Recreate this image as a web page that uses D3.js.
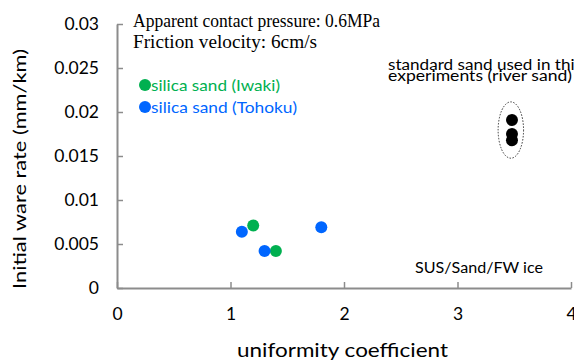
<!DOCTYPE html>
<html>
<head>
<meta charset="utf-8">
<script src="https://cdn.jsdelivr.net/npm/d3@7"></script>
<style>
  body { margin: 0; background: #fff; }
  svg { font-family: Lato, "Open Sans", sans-serif; }
  .serif { font-family: "Liberation Serif", "Times New Roman", serif; }
</style>
</head>
<body>
<div id="chart"></div>
<script>
// data
var iwakiX = [1.2, 1.4],
    iwakiY = [0.0071, 0.0042];
var tohokuX = [1.1, 1.3, 1.8],
    tohokuY = [0.0064, 0.0042, 0.0069];
var standardX = [3.48, 3.48, 3.48],
    standardY = [0.0191, 0.0175, 0.0168];
var xTicks = [0, 1, 2, 3, 4];
var yTicks = [0, 0.005, 0.01, 0.015, 0.02, 0.025, 0.03];
var yTickLabels = ["0", "0.005", "0.01", "0.015", "0.02", "0.025", "0.03"];

var width = 574, height = 360;
var margin = {top: 24, right: 3, bottom: 72, left: 117};

var svg = d3.select("#chart").append("svg")
    .attr("width", width)
    .attr("height", height);

var x = d3.scaleLinear().domain([0, 4]).range([margin.left, width - margin.right]);
var y = d3.scaleLinear().domain([0, 0.03]).range([height - margin.bottom, margin.top]);

var axisColor = "#8c8c8c";

// x axis, ticks pointing inward
var gx = svg.append("g")
    .attr("transform", "translate(0," + y(0) + ")")
    .call(d3.axisBottom(x).tickValues(xTicks).tickFormat(d3.format("d"))
      .tickSize(-6).tickSizeOuter(0).tickPadding(20));
gx.select(".domain").attr("stroke", axisColor).attr("stroke-width", 2);
gx.selectAll(".tick line").attr("stroke", axisColor).attr("stroke-width", 1.5);
gx.selectAll(".tick text").attr("font-size", 17.5).attr("fill", "#000")
    .attr("font-family", "Lato, sans-serif");

// y axis, ticks pointing inward
var gy = svg.append("g")
    .attr("transform", "translate(" + x(0) + ",0)")
    .call(d3.axisLeft(y).tickValues(yTicks)
      .tickFormat(function(d, i) { return yTickLabels[i]; })
      .tickSize(-6).tickSizeOuter(0).tickPadding(18));
gy.select(".domain").attr("stroke", axisColor).attr("stroke-width", 2);
gy.selectAll(".tick line").attr("stroke", axisColor).attr("stroke-width", 1.5);
gy.selectAll(".tick text").attr("font-size", 17.5).attr("fill", "#000")
    .attr("font-family", "Lato, sans-serif");

// helper: text stretched to the width seen in the picture
function label(px, py, str, size, len, cls) {
  return svg.append("text")
      .attr("class", cls || null)
      .attr("x", px).attr("y", py)
      .attr("font-size", size)
      .attr("textLength", len)
      .attr("lengthAdjust", "spacingAndGlyphs")
      .text(str);
}

// axis titles
label(237, 357, "uniformity coefficient", 20, 211);

svg.append("text")
    .attr("transform", "translate(26,169) rotate(-90)")
    .attr("text-anchor", "middle")
    .attr("font-size", 18)
    .attr("textLength", 240)
    .attr("lengthAdjust", "spacingAndGlyphs")
    .text("Initial ware rate  (mm/km)");

// conditions
label(133, 27, "Apparent contact pressure: 0.6MPa", 18.5, 247, "serif");
label(133, 48, "Friction velocity: 6cm/s", 18.5, 184, "serif");

// dotted ellipse around standard sand
svg.append("ellipse")
    .attr("cx", x(3.47)).attr("cy", y(0.01795))
    .attr("rx", x(3.47) - x(3.358)).attr("ry", y(0.01795) - y(0.02115))
    .attr("fill", "none")
    .attr("stroke", "#333")
    .attr("stroke-width", 1)
    .attr("stroke-dasharray", "1.5,1.5");

function dots(xs, ys, color) {
  svg.append("g").selectAll("circle")
    .data(xs.map(function(d, i) { return {x: d, y: ys[i]}; }))
    .enter().append("circle")
      .attr("cx", function(d) { return x(d.x); })
      .attr("cy", function(d) { return y(d.y); })
      .attr("r", 6)
      .attr("fill", color);
}

var green = "#00b050", blue = "#0066ff";
dots(iwakiX, iwakiY, green);
dots(tohokuX, tohokuY, blue);
dots(standardX, standardY, "#000");

// legend
var legend = [
  {label: "silica sand (Iwaki)", color: green, y: 85, len: 129},
  {label: "silica sand (Tohoku)", color: blue, y: 107, len: 146}
];
var lg = svg.append("g").selectAll("g").data(legend).enter().append("g");
lg.append("circle")
    .attr("cx", 145).attr("cy", function(d) { return d.y; })
    .attr("r", 6).attr("fill", function(d) { return d.color; });
lg.append("text")
    .attr("x", 151).attr("y", function(d) { return d.y + 5.5; })
    .attr("font-size", 16)
    .attr("textLength", function(d) { return d.len; })
    .attr("lengthAdjust", "spacingAndGlyphs")
    .attr("fill", function(d) { return d.color; })
    .text(function(d) { return d.label; });

// annotations
label(388, 70, "standard sand used in this", 14.5, 194);
label(388, 81, "experiments (river sand)", 14.5, 184);
label(415, 273, "SUS/Sand/FW ice", 14.5, 128);
</script>
</body>
</html>
